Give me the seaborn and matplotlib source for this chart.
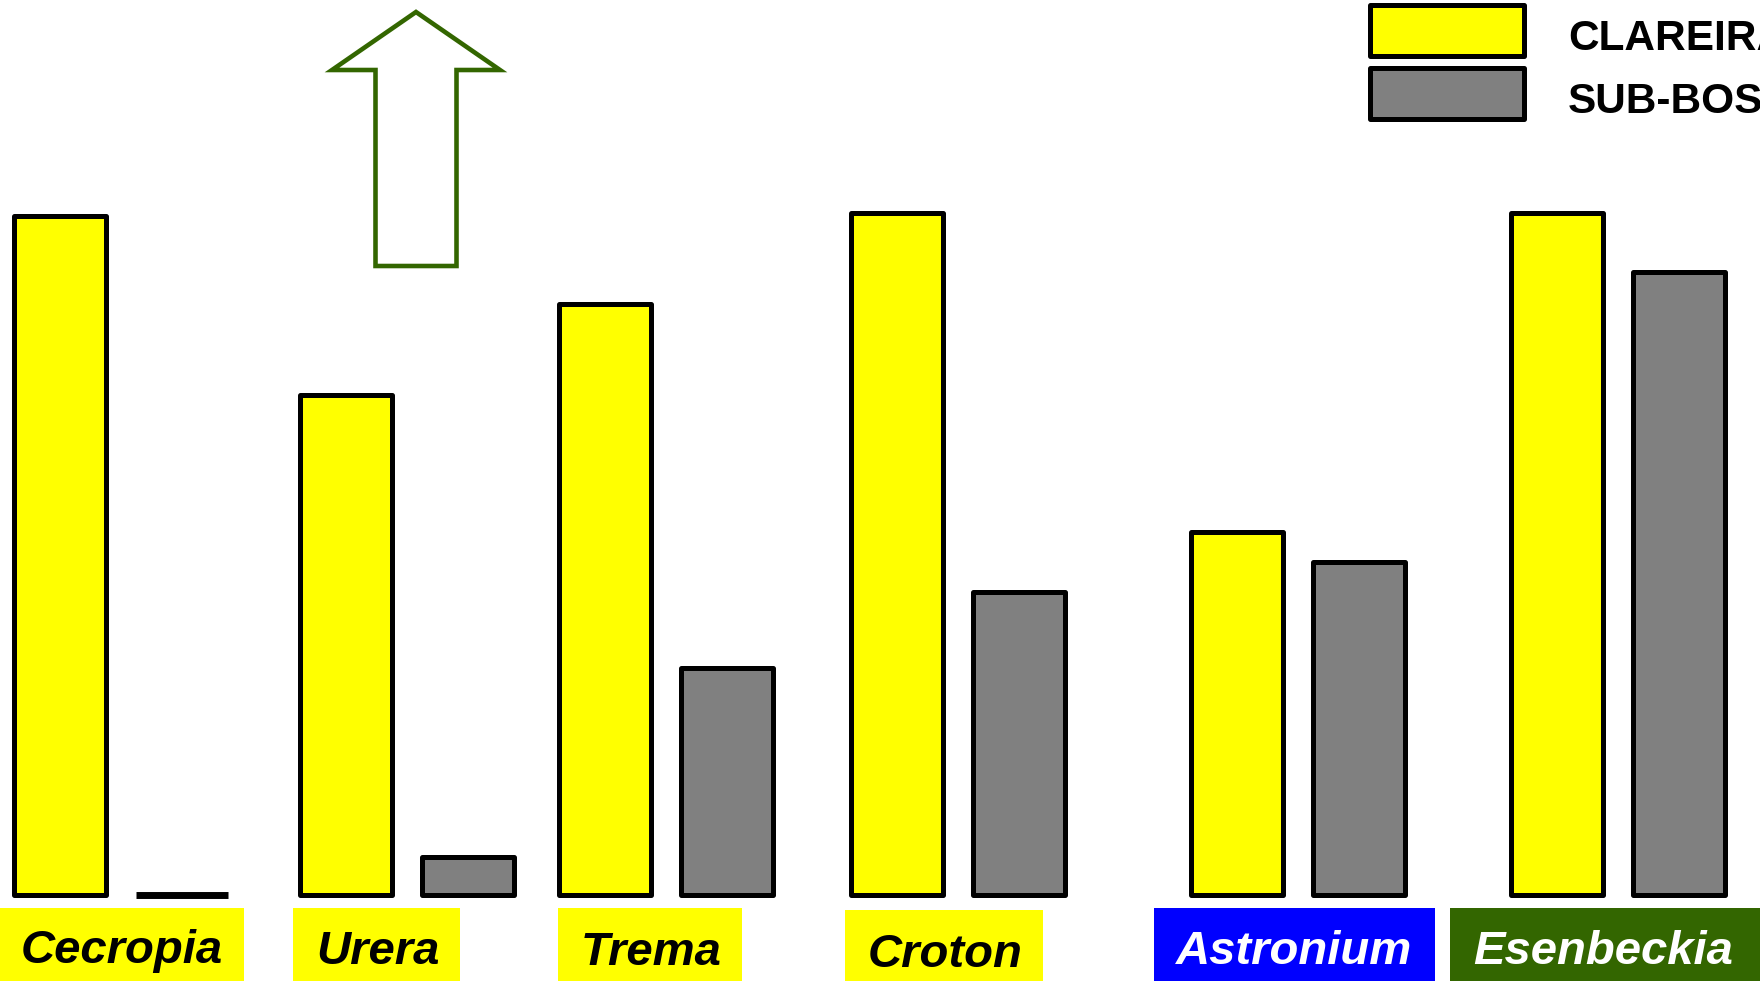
import numpy as np
import pandas as pd
import matplotlib
matplotlib.use("Agg")
import matplotlib.pyplot as plt
import matplotlib.transforms as mtransforms
from matplotlib.patches import Rectangle, Polygon
import seaborn as sns

# Relative seedling performance per genus in gaps (clareira) and understorey (sub-bosque)
species = ["Cecropia", "Urera", "Trema", "Croton", "Astronium", "Esenbeckia"]
clareira = [99.5, 73.3, 86.6, 100.0, 53.2, 100.0]
sub_bosque = [0.0, 5.5, 33.3, 44.5, 48.9, 91.4]
habitats = ["CLAREIRA", "SUB-BOSQUE"]

# Label styling per genus (pioneers in yellow, shade-tolerant in blue / green)
label_face = ["#FFFF00", "#FFFF00", "#FFFF00", "#FFFF00", "#0000FF", "#336600"]
label_text = ["black", "black", "black", "black", "white", "white"]

# Layout (figure pixels, origin at top-left)
W, H = 1760, 981
group_x = [121.0, 406.9, 666.1, 958.0, 1298.1, 1618.0]
label_box = [(0, 244, 908), (293.3, 460, 908), (557.7, 742, 908),
             (845, 1043.3, 910), (1153.9, 1434.5, 908), (1450, 1765, 908)]
label_cx = [122, 378, 651, 945, 1294.5, 1603]
label_base = [963, 964, 965, 967, 964, 964]
baseline_px = 895
px_per_unit = 6.82

sns.set_style("white")
plt.rcParams["font.family"] = ["Liberation Sans", "DejaVu Sans"]

fig = plt.figure(figsize=(W / 100, H / 100), dpi=100)
ax = fig.add_axes([0, 0, 1, 1])

df = pd.DataFrame({
    "x": group_x * 2,
    "valor": clareira + sub_bosque,
    "habitat": [habitats[0]] * len(species) + [habitats[1]] * len(species),
})

sns.barplot(data=df, x="x", y="valor", hue="habitat", hue_order=habitats,
            palette={habitats[0]: "#FFFF00", habitats[1]: "#808080"},
            native_scale=True, width=0.9414, gap=0.246, errorbar=None,
            saturation=1, edgecolor="black", linewidth=3.6, legend=False, ax=ax)

for p in ax.patches:
    if p.get_height() > 0:
        p.set_joinstyle("round")
    else:
        p.set_linewidth(5.0)

ax.set_xlim(0, W)
y_low = -(H - baseline_px) / px_per_unit
ax.set_ylim(y_low, y_low + H / px_per_unit)
ax.set_axis_off()

# Transform for figure pixels measured from the top-left corner
px = mtransforms.Affine2D().scale(1 / W, -1 / H).translate(0, 1) + fig.transFigure

# Genus labels on coloured boxes
for name, (l, r, t), cx, by, fc, tc in zip(species, label_box, label_cx, label_base,
                                           label_face, label_text):
    fig.patches.append(Rectangle((l, t), r - l, H + 10 - t, transform=px,
                                 facecolor=fc, edgecolor="none", zorder=1))
    fig.text(cx, by, name, transform=px, ha="center", va="baseline",
             fontsize=34, fontweight="bold", fontstyle="italic", color=tc, zorder=3)

# Legend
legend_rows = [(habitats[0], "#FFFF00", 5.2, 50), (habitats[1], "#808080", 68.2, 113.3)]
for lab, col, top, ty in legend_rows:
    fig.patches.append(Rectangle((1369.5, top), 154, 50.8, transform=px,
                                 facecolor=col, edgecolor="black", linewidth=3.6,
                                 joinstyle="round", zorder=2))
    fig.text(1568, ty, lab, transform=px, ha="left", va="baseline",
             fontsize=30.5, fontweight="bold", color="black", zorder=3)

# Hollow upward arrow above Urera
arrow_pts = [(416, 12), (500, 70), (456.5, 70), (456.5, 266),
             (375.5, 266), (375.5, 70), (332, 70)]
fig.patches.append(Polygon(arrow_pts, closed=True, transform=px, facecolor="none",
                           edgecolor="#336600", linewidth=3.3, joinstyle="miter", zorder=2))

fig.savefig("out.png", dpi=100)
